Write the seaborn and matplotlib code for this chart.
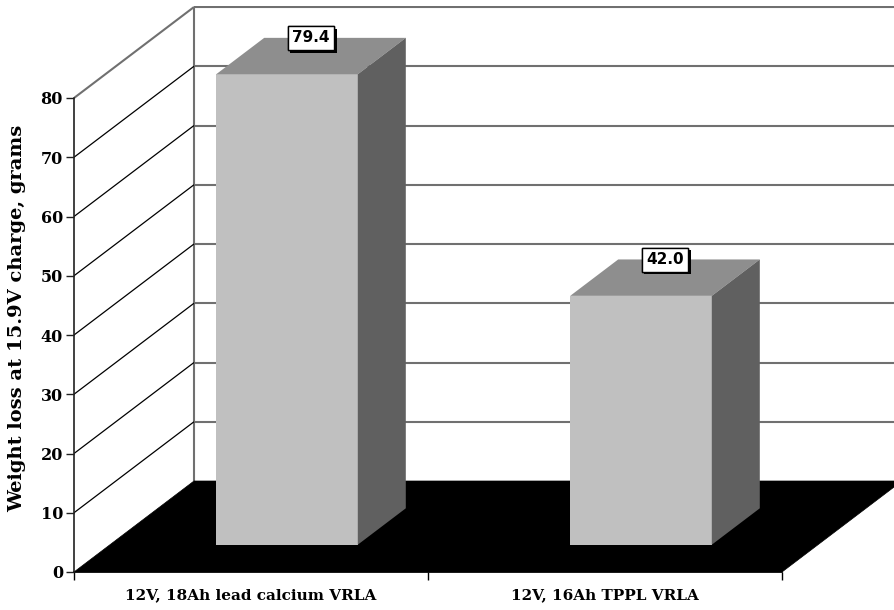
import numpy as np
import pandas as pd
import matplotlib
matplotlib.use("Agg")
import matplotlib.pyplot as plt
from matplotlib.patches import Polygon
import matplotlib.patheffects as pe
import seaborn as sns

# ---- data ----
categories = ["12V, 18Ah lead calcium VRLA", "12V, 16Ah TPPL VRLA"]
values = [79.4, 42.0]
value_labels = ["79.4", "42.0"]
yticks = [0, 10, 20, 30, 40, 50, 60, 70, 80]
ylabel = "Weight loss at 15.9V charge, grams"

# ---- style ----
sns.set_style("white")
plt.rcParams["font.family"] = ["DejaVu Serif"]
for k in ["text.color", "axes.labelcolor", "xtick.color", "ytick.color"]:
    plt.rcParams[k] = "black"

W, H = 894, 610
fig = plt.figure(figsize=(W / 100, H / 100), dpi=100)
ax = fig.add_axes([74 / W, (H - 572) / H, (W - 74) / W, (572 - 6) / H])

px_per_cat = 354.0
px_per_unit = (572 - 98) / 80.0
ymax = (572 - 6) / px_per_unit
xmin = -0.5
xmax = xmin + (W - 74) / px_per_cat

DX = 120 / px_per_cat
DY = 91 / px_per_unit
f0, f1 = 0.3, 0.7

df = pd.DataFrame({"cat": categories, "val": values})
sns.barplot(data=df, x="cat", y="val", color="#C0C0C0", saturation=1,
            width=0.4, ax=ax, edgecolor="none")
ax.set_xlim(xmin, xmax)
ax.set_ylim(0, ymax)

xn = len(categories)
x_left = -0.5
x_right = xn - 0.5

back_y = [t + DY for t in yticks[1:]]
ax.hlines(back_y, x_left + DX, xmax, colors="#707070", lw=1.5, zorder=0.5)
ax.vlines(x_left + DX, DY, yticks[-1] + DY, colors="#707070", lw=1.5, zorder=0.5)
for t in yticks[1:]:
    col = "#707070" if t == yticks[-1] else "black"
    lw = 1.5 if t == yticks[-1] else 0.9
    ax.plot([x_left, x_left + DX], [t, t + DY], color=col, lw=lw, zorder=0.6,
            solid_capstyle="butt")

floor = Polygon([[x_left, 0], [x_right, 0], [x_right + DX, DY], [x_left + DX, DY]],
                closed=True, facecolor="black", edgecolor="black", lw=0.5, zorder=0.8,
                clip_on=False)
ax.add_patch(floor)

ddx = (f1 - f0) * DX
ddy = (f1 - f0) * DY
for p, lab in zip(ax.patches[:xn], value_labels):
    p.set_x(p.get_x() + f0 * DX)
    p.set_y(f0 * DY)
    p.set_zorder(2)
    x0 = p.get_x()
    x1 = x0 + p.get_width()
    y0 = p.get_y()
    y1 = y0 + p.get_height()
    top = Polygon([[x0, y1], [x1, y1], [x1 + ddx, y1 + ddy], [x0 + ddx, y1 + ddy]],
                  closed=True, facecolor="#8E8E8E", edgecolor="none", zorder=2)
    side = Polygon([[x1, y0], [x1, y1], [x1 + ddx, y1 + ddy], [x1 + ddx, y0 + ddy]],
                   closed=True, facecolor="#606060", edgecolor="none", zorder=2)
    ax.add_patch(top)
    ax.add_patch(side)
    cx = (x0 + x1) / 2 + ddx / 2
    cy = y1 + ddy / 2
    t = ax.annotate(lab, (cx, cy), xytext=(0, 13), textcoords="offset points",
                    ha="center", va="center", fontsize=11, fontweight="bold",
                    family="DejaVu Sans", zorder=5,
                    bbox=dict(boxstyle="square,pad=0.3", fc="white", ec="black", lw=1.0))
    t.get_bbox_patch().set_path_effects([
        pe.withSimplePatchShadow(offset=(2, -2), shadow_rgbFace="black", alpha=1.0),
        pe.Normal()])

for s in ["top", "right"]:
    ax.spines[s].set_visible(False)
ax.spines["left"].set_bounds(0, yticks[-1])
ax.spines["bottom"].set_bounds(x_left, x_right)
ax.spines["left"].set_color("#202020")
ax.spines["bottom"].set_color("black")
ax.spines["left"].set_linewidth(1.2)
ax.spines["bottom"].set_linewidth(1.2)
ax.spines["left"].set_zorder(3)

ax.set_yticks(yticks)
ax.set_yticklabels([str(v) for v in yticks], fontsize=11.5, fontweight="bold")
ax.tick_params(axis="y", direction="out", length=6, width=1, pad=2, left=True, color="#202020")

ax.set_xticks(range(xn))
ax.set_xticklabels(categories, fontsize=11, fontweight="bold")
ax.set_xticks(np.arange(xn + 1) - 0.5, minor=True)
ax.tick_params(axis="x", which="major", length=0, pad=12)
ax.tick_params(axis="x", which="minor", direction="out", length=6, width=1, bottom=True, color="black")

ax.set_xlabel("")
ax.set_ylabel(ylabel, fontsize=14, fontweight="bold")
ax.yaxis.set_label_coords((26 - 74) / (W - 74), (572 - 318) / (572 - 6))

ax.grid(False)
ax.set_facecolor("white")
fig.savefig("out.png", dpi=100, facecolor="white")
